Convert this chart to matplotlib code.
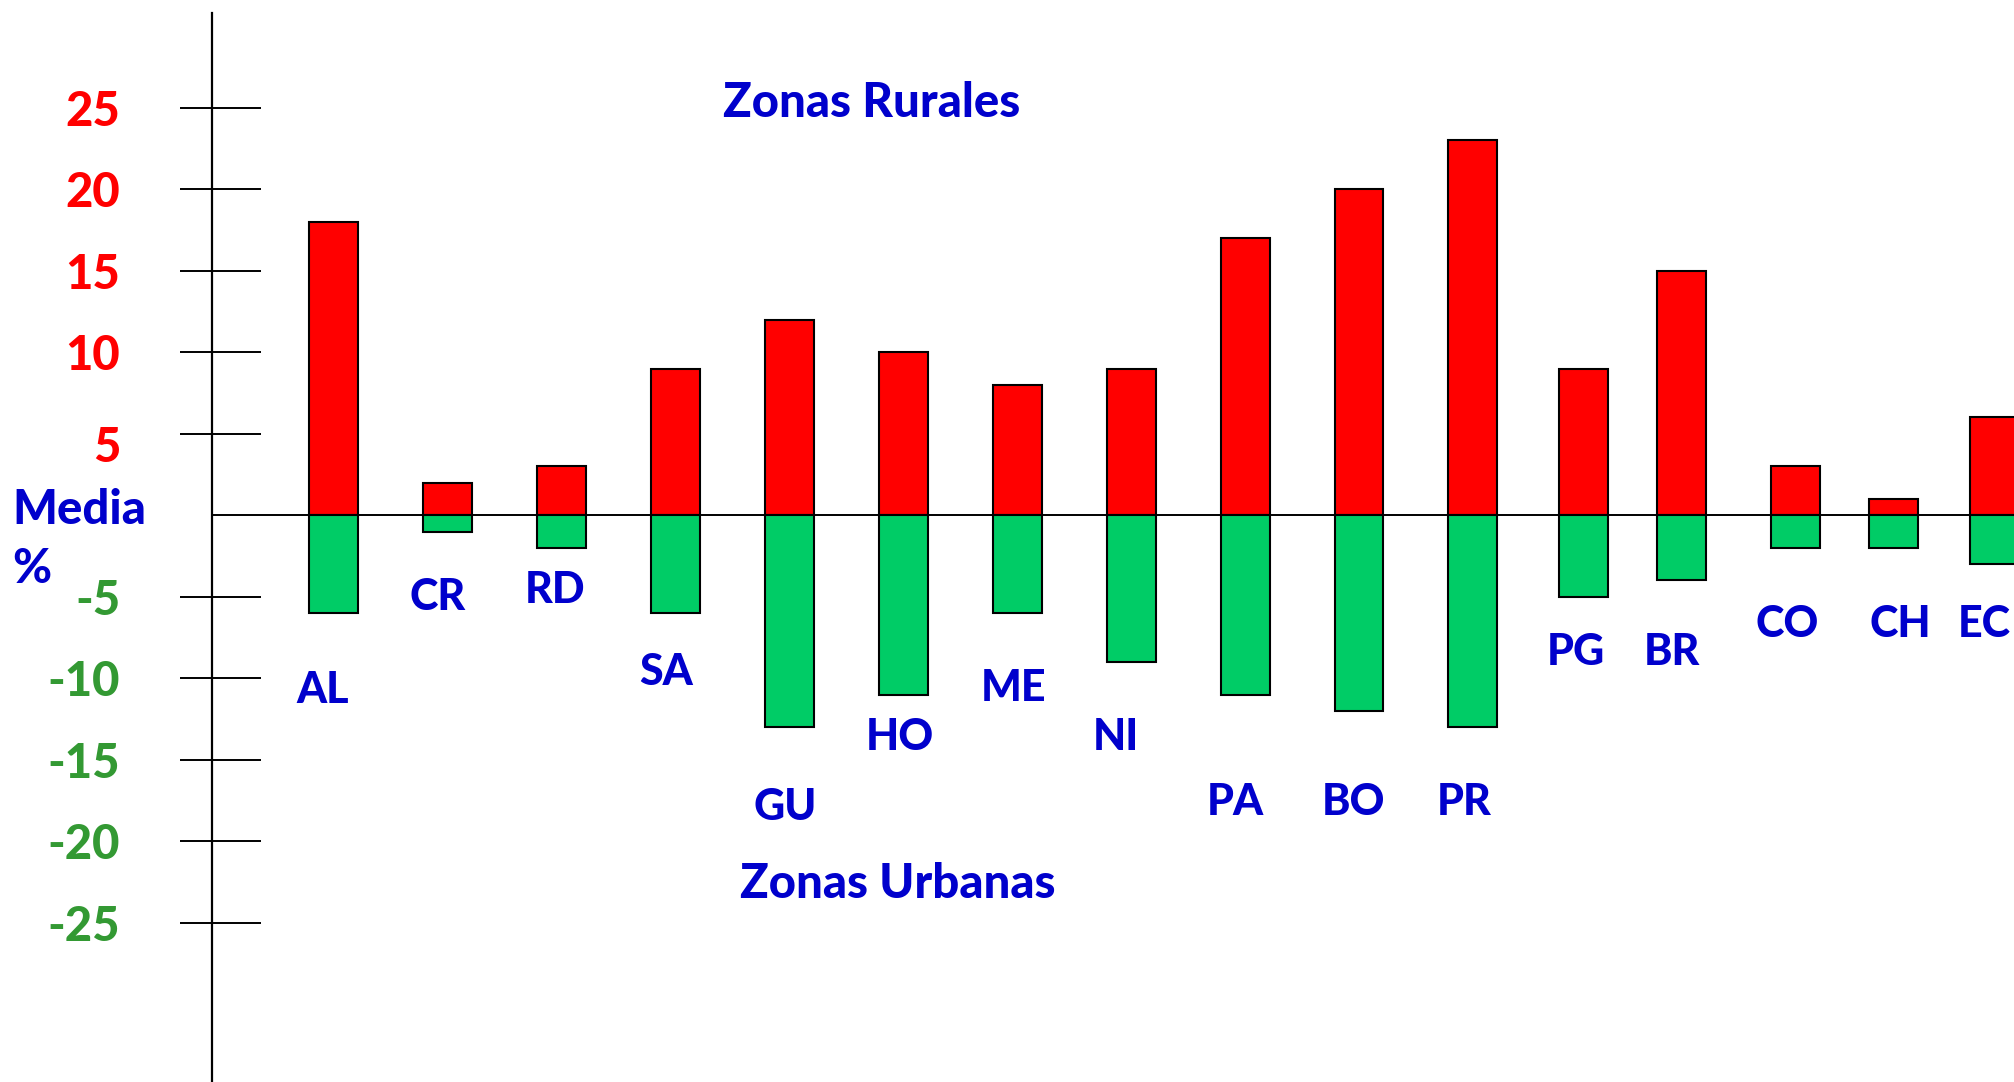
import matplotlib
matplotlib.use("Agg")
import matplotlib.pyplot as plt
import matplotlib.transforms as mtransforms
import numpy as np

# === Datos ===
paises = ["AL", "CR", "RD", "SA", "GU", "HO", "ME", "NI",
          "PA", "BO", "PR", "PG", "BR", "CO", "CH", "EC"]
rurales = [18, 2, 3, 9, 12, 10, 8, 9, 17, 20, 23, 9, 15, 3, 1, 6]
urbanas = [-6, -1, -2, -6, -13, -11, -6, -9, -11, -12, -13, -5, -4, -2, -2, -3]
ticks_y = [25, 20, 15, 10, 5, -5, -10, -15, -20, -25]

# === Disposicion (centros de barra y etiquetas) ===
pos_x = [1.0, 2.0, 3.0, 4.0, 5.0, 6.0, 7.0, 8.0,
         9.0, 10.0, 11.0, 11.97, 12.83, 13.83, 14.69, 15.58]
etiq_x = [0.9, 1.91, 2.94, 3.92, 4.96, 5.97, 6.97, 7.87,
          8.91, 9.95, 10.92, 11.9, 12.75, 13.76, 14.75, 15.49]
etiq_y = [-10.7, -5.0, -4.6, -9.6, -17.9, -13.6, -10.6, -13.6,
          -17.6, -17.6, -17.6, -8.4, -8.4, -6.7, -6.7, -6.7]

ROJO = "#FF0000"
VERDE = "#00CC66"
AZUL = "#0000CC"
VERDE_TXT = "#339933"
fuente = ["Lato", "DejaVu Sans"]
PESO = 900

fig = plt.figure(figsize=(20.14, 10.82), dpi=100)
ax = fig.add_axes([0, 0, 1, 1])
ax.set_xlim(-1.93, 15.75)
ax.set_ylim(-34.78, 31.62)

ancho = 0.43
ax.bar(pos_x, rurales, width=ancho, color=ROJO, edgecolor="black", linewidth=1.5, zorder=2)
ax.bar(pos_x, urbanas, width=ancho, color=VERDE, edgecolor="black", linewidth=1.5, zorder=2)

# linea del cero
eje_x = -0.071
ax.hlines(0, eje_x, 15.75, color="black", linewidth=1.4, zorder=3)

# eje vertical con marcas (parte interior mas larga que la exterior)
for lado in ["top", "right", "bottom"]:
    ax.spines[lado].set_visible(False)
ax.spines["left"].set_position(("data", eje_x))
ax.spines["left"].set_bounds(-34.78, 30.84)
ax.spines["left"].set_linewidth(1.6)
ax.set_xticks([])
ax.set_yticks(ticks_y)
ax.set_yticks(ticks_y, minor=True)
ax.yaxis.remove_overlapping_locs = False
ax.set_yticklabels([str(t) for t in ticks_y])
ax.tick_params(axis="y", which="major", direction="in", length=35, width=1.4, pad=66)
ax.tick_params(axis="y", which="minor", direction="out", length=23, width=1.4, labelleft=False)
bajar = mtransforms.ScaledTranslation(0, -0.1, fig.dpi_scale_trans)
for t, lab in zip(ticks_y, ax.get_yticklabels()):
    lab.set_color(ROJO if t > 0 else VERDE_TXT)
    lab.set_fontsize(34)
    lab.set_fontweight(PESO)
    lab.set_family(fuente)
    if t == 5:
        lab.set_transform(lab.get_transform() + bajar)

# etiquetas de paises
for nombre, x, y in zip(paises, etiq_x, etiq_y):
    ax.text(x, y, nombre, color=AZUL, fontsize=31, fontweight=PESO,
            family=fuente, ha="center", va="center")

ax.text(5.72, 25.3, "Zonas Rurales", color=AZUL, fontsize=34, fontweight=PESO,
        family=fuente, ha="center", va="center")
ax.text(5.95, -22.6, "Zonas Urbanas", color=AZUL, fontsize=34, fontweight=PESO,
        family=fuente, ha="center", va="center")
ax.text(-1.82, 0.3, "Media", color=AZUL, fontsize=34, fontweight=PESO,
        family=fuente, ha="left", va="center")
ax.text(-1.82, -3.3, "%", color=AZUL, fontsize=34, fontweight=PESO,
        family=fuente, ha="left", va="center")

fig.savefig("out.png", dpi=100)
plt.close(fig)
